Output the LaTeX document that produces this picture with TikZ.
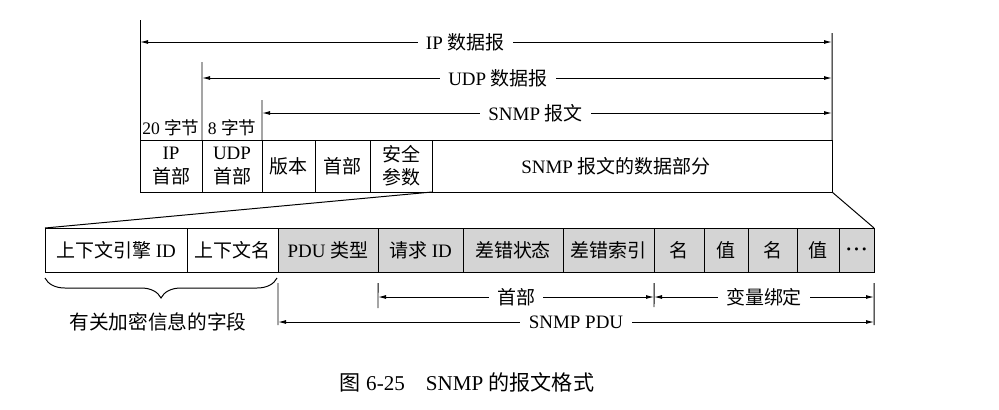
\documentclass[tikz,border=0pt]{standalone}
\usepackage{fontspec}
\setmainfont{Liberation Serif}
\newfontfamily\cjk{Noto Sans CJK SC}
\usetikzlibrary{arrows.meta,positioning,shadows,decorations.pathreplacing}
\newcommand{\zh}[1]{{\cjk #1}}
\definecolor{pdugray}{RGB}{212,212,212}
\tikzset{
  cell/.style={
    draw,
    fill=white,
    line width=0.7pt,
    outer sep=0pt,
    inner sep=1pt,
    align=center,
    minimum height=13mm,
    drop shadow={shadow xshift=0.8pt, shadow yshift=-0.8pt, fill=black, opacity=1}
  },
  lowcell/.style={cell, minimum height=11mm},
  pducell/.style={lowcell, fill=pdugray},
  dimline/.style={{Latex[length=2mm,width=1mm]}-{Latex[length=2mm,width=1mm]}, line width=0.7pt},
  tick/.style={line width=0.7pt},
  lbl/.style={fill=white, inner xsep=6pt, inner ysep=2pt}
}

\begin{document}
\begin{tikzpicture}[x=0.25mm, y=-0.25mm, font=\fontsize{13.5}{16.5}\selectfont]
  \useasboundingbox (0,0) rectangle (999,409);

  % SNMP message carried in UDP and IP
  \node[cell, anchor=north west, minimum width=15.5mm] (ip) at (140,140) {IP\\\zh{首部}};
  \node[cell, right=0pt of ip, minimum width=15mm] (udp) {UDP\\\zh{首部}};
  \node[cell, right=0pt of udp, minimum width=13.25mm] (ver) {\zh{版本}};
  \node[cell, right=0pt of ver, minimum width=13.75mm] (hdr) {\zh{首部}};
  \node[cell, right=0pt of hdr, minimum width=15.5mm] (sec) {\zh{安全}\\\zh{参数}};
  \node[cell, right=0pt of sec, minimum width=100mm] (data) {SNMP \zh{报文的数据部分}\hspace*{8mm}};

  % data part expanded
  \node[lowcell, anchor=north west, minimum width=35.5mm] (eng) at (45,228) {\zh{上下文引擎} ID};
  \node[lowcell, right=0pt of eng, minimum width=22.75mm] (ctx) {\zh{上下文名}};
  \node[pducell, right=0pt of ctx, minimum width=25mm] (ptype) {PDU \zh{类型}};
  \node[pducell, right=0pt of ptype, minimum width=21.25mm] (rid) {\zh{请求} ID};
  \node[pducell, right=0pt of rid, minimum width=25mm] (estat) {\zh{差错状态}};
  \node[pducell, right=0pt of estat, minimum width=22.75mm] (eidx) {\zh{差错索引}};
  \node[pducell, right=0pt of eidx, minimum width=12.5mm] (nameA) {\zh{名}};
  \node[pducell, right=0pt of nameA, minimum width=11mm] (valA) {\zh{值}};
  \node[pducell, right=0pt of valA, minimum width=12.25mm] (nameB) {\zh{名}};
  \node[pducell, right=0pt of nameB, minimum width=10.5mm] (valB) {\zh{值}};
  \node[pducell, right=0pt of valB, minimum width=8.75mm] (dots) {{\boldmath$\cdot\!\cdot\!\cdot$}};

  \draw[tick] (sec.south east) -- (eng.north west);
  \draw[tick] (data.south east) -- (dots.north east);

  % lengths above
  \coordinate (ipTop) at (140,20);
  \coordinate (endTop) at (832,33);
  \coordinate (udpTop) at (202,62);
  \coordinate (snmpTop) at (262,100);
  \coordinate (ipL) at (140,42);
  \coordinate (ipR) at (832,42);
  \coordinate (udpL) at (202,78);
  \coordinate (udpR) at (832,78);
  \coordinate (snmpL) at (262,113);
  \coordinate (snmpR) at (832,113);
  \draw[tick] (ipTop) -- (ip.north west);
  \draw[tick] (endTop) -- (data.north east);
  \draw[tick] (udpTop) -- (udp.north west);
  \draw[tick] (snmpTop) -- (ver.north west);
  \draw[dimline] (ipL) -- node[lbl, pos=.47] {IP \zh{数据报}} (ipR);
  \draw[dimline] (udpL) -- node[lbl, pos=.47] {UDP \zh{数据报}} (udpR);
  \draw[dimline] (snmpL) -- node[lbl, pos=.48] {SNMP \zh{报文}} (snmpR);
  \node[font=\fontsize{12.5}{15}\selectfont] (ipBytes) at (171,128) {20 \zh{字节}};
  \node[font=\fontsize{12.5}{15}\selectfont] (udpBytes) at (232,128) {8 \zh{字节}};

  % lengths below
  \coordinate (pduTick) at (278,325);
  \coordinate (hdrTick) at (378,308);
  \coordinate (varTick) at (654,307);
  \coordinate (endTick) at (874,325);
  \coordinate (hdrL) at (378,297);
  \coordinate (hdrR) at (654,297);
  \coordinate (varR) at (874,297);
  \coordinate (pduL) at (278,322);
  \coordinate (pduR) at (874,322);
  \draw[tick] (ptype.south west) ++(0,11) -- (pduTick);
  \draw[tick] (rid.south west) ++(0,11) -- (hdrTick);
  \draw[tick] (nameA.south west) ++(0,11) -- (varTick);
  \draw[tick] (dots.south east) ++(0,11) -- (endTick);
  \draw[dimline] (hdrL) -- node[lbl] {\zh{首部}} (hdrR);
  \draw[dimline] (hdrR) -- node[lbl] {\zh{变量绑定}} (varR);
  \draw[dimline] (pduL) -- node[lbl, inner ysep=1pt] {SNMP PDU} (pduR);

  \coordinate (braceL) at (45,278);
  \coordinate (braceR) at (277,278);
  \draw[tick, decorate, decoration={brace, mirror, amplitude=5mm}] (braceL) -- (braceR);
  \node[font=\fontsize{14}{16}\selectfont] (crypt) at (158,322) {\zh{有关加密信息的字段}};

  \node[font=\fontsize{15}{18}\selectfont] (caption) at (467,382) {\zh{图} 6-25\quad SNMP \zh{的报文格式}};
\end{tikzpicture}
\end{document}
